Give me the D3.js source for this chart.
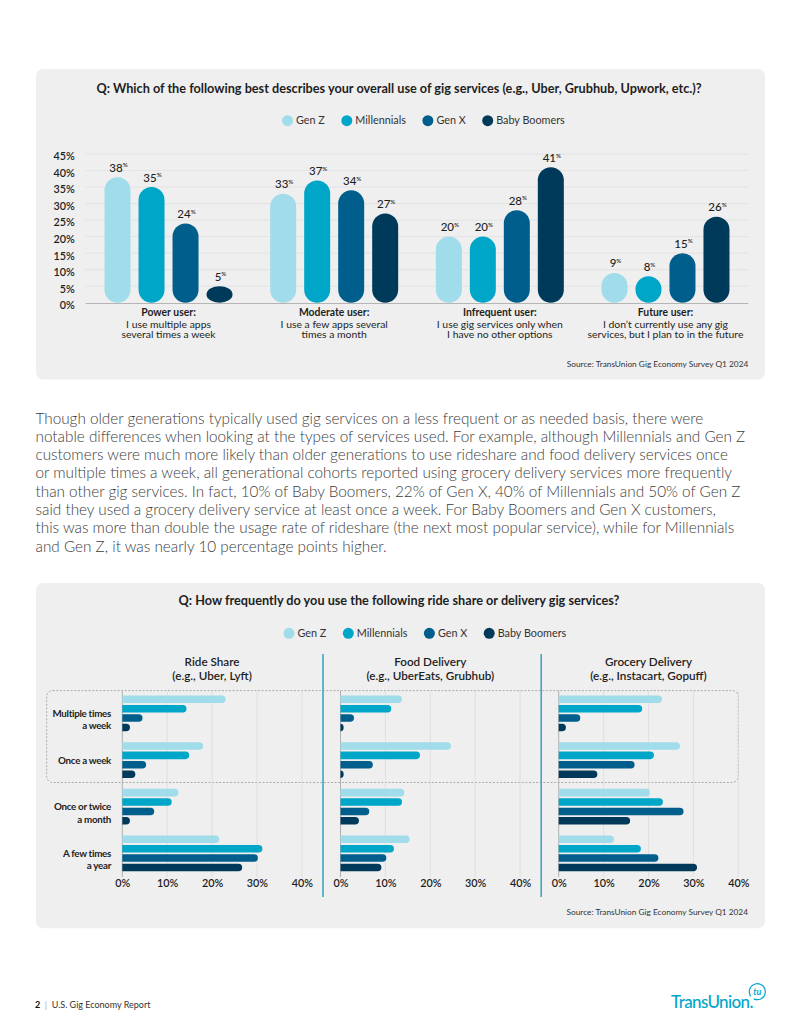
<!DOCTYPE html>
<html>
<head>
<meta charset="utf-8">
<script src="https://cdn.jsdelivr.net/npm/d3@7"></script>
<style>
  body { margin: 0; background: #fff; }
  text { font-family: Lato, "Noto Sans", sans-serif; }
</style>
</head>
<body>
<div id="page"></div>
<script>
// datos
var generations = ["Gen Z", "Millennials", "Gen X", "Baby Boomers"];
var genColors = ["#a0dcea", "#00a6c8", "#005e8c", "#003a5a"];

var usageTypes = ["Power user:", "Moderate user:", "Infrequent user:", "Future user:"];
var usageDesc = [
  ["I use multiple apps", "several times a week"],
  ["I use a few apps several", "times a month"],
  ["I use gig services only when", "I have no other options"],
  ["I don\u2019t currently use any gig", "services, but I plan to in the future"]
];
var genZUsage = [38, 33, 20, 9];
var millennialsUsage = [35, 37, 20, 8];
var genXUsage = [24, 34, 28, 15];
var boomersUsage = [5, 27, 41, 26];
var usageTicks = [0, 5, 10, 15, 20, 25, 30, 35, 40, 45];

var services = ["Ride Share", "Food Delivery", "Grocery Delivery"];
var serviceExamples = ["(e.g., Uber, Lyft)", "(e.g., UberEats, Grubhub)", "(e.g., Instacart, Gopuff)"];
var frequencies = ["Multiple times a week", "Once a week", "Once or twice a month", "A few times a year"];
var frequencyLines = [["Multiple times", "a week"], ["Once a week"], ["Once or twice", "a month"], ["A few times", "a year"]];
var freqTicks = [0, 10, 20, 30, 40];

var rideGenZ = [23, 18, 12.5, 21.6];
var rideMillennials = [14.3, 14.9, 11, 31.2];
var rideGenX = [4.5, 5.3, 7.1, 30.2];
var rideBoomers = [1.7, 2.9, 1.7, 26.7];

var foodGenZ = [13.7, 24.6, 14.2, 15.4];
var foodMillennials = [11.3, 17.7, 13.7, 11.9];
var foodGenX = [3, 7.2, 6.4, 10.2];
var foodBoomers = [0.7, 0.7, 4.1, 9.1];

var groceryGenZ = [23, 27, 20.3, 12.3];
var groceryMillennials = [18.6, 21.2, 23.2, 18.3];
var groceryGenX = [4.8, 16.9, 27.8, 22.2];
var groceryBoomers = [1.6, 8.6, 15.9, 30.8];

var sourceText = "Source: TransUnion Gig Economy Survey Q1 2024";
var paragraphLines = [
  "Though older generations typically used gig services on a less frequent or as needed basis, there were",
  "notable differences when looking at the types of services used. For example, although Millennials and Gen Z",
  "customers were much more likely than older generations to use rideshare and food delivery services once",
  "or multiple times a week, all generational cohorts reported using grocery delivery services more frequently",
  "than other gig services. In fact, 10% of Baby Boomers, 22% of Gen X, 40% of Millennials and 50% of Gen Z",
  "said they used a grocery delivery service at least once a week. For Baby Boomers and Gen X customers,",
  "this was more than double the usage rate of rideshare (the next most popular service), while for Millennials",
  "and Gen Z, it was nearly 10 percentage points higher."
];

var color = d3.scaleOrdinal().domain(generations).range(genColors);
var textDark = "#1e1e1e";

var svg = d3.select("#page").append("svg")
  .attr("width", 800)
  .attr("height", 1035);

// leyenda
function drawLegend(y, startX) {
  var g = svg.append("g").attr("transform", "translate(" + startX + "," + y + ")");
  var x = 0;
  generations.forEach(function (gen) {
    g.append("circle").attr("cx", x + 5.5).attr("cy", 0).attr("r", 5.5).attr("fill", color(gen));
    var t = g.append("text")
      .attr("x", x + 14)
      .attr("y", 3.7)
      .attr("font-size", 10.8)
      .attr("fill", "#333")
      .text(gen);
    x += 14 + t.node().getComputedTextLength() + 16.5;
  });
}

// ---------- grafico superior ----------
svg.append("rect")
  .attr("x", 36).attr("y", 69).attr("width", 729).attr("height", 310.5)
  .attr("rx", 7).attr("fill", "#efefef");

svg.append("text")
  .attr("x", 399).attr("y", 93.2)
  .attr("text-anchor", "middle")
  .attr("font-size", 12.7).attr("font-weight", 700)
  .attr("fill", textDark)
  .text("Q: Which of the following best describes your overall use of gig services (e.g., Uber, Grubhub, Upwork, etc.)?");

drawLegend(120.7, 282);

var usageSeries = [genZUsage, millennialsUsage, genXUsage, boomersUsage];
var usageData = usageTypes.map(function (t, i) {
  return {
    type: t,
    desc: usageDesc[i],
    values: generations.map(function (gen, j) { return { gen: gen, value: usageSeries[j][i] }; })
  };
});

var y = d3.scaleLinear().domain([0, 45]).range([302.7, 154]);
var x0 = d3.scaleBand().domain(usageTypes).range([85.7, 748.3]);
var x1 = d3.scaleBand().domain(generations).range([0, 128]).paddingInner(8 / 34);
var groupOffset = (x0.bandwidth() - 128) / 2;

// lineas de cuadricula
svg.append("g").selectAll("line")
  .data(usageTicks.filter(function (d) { return d > 0; }))
  .enter().append("line")
  .attr("x1", 85.7).attr("x2", 748.3)
  .attr("y1", function (d) { return y(d); })
  .attr("y2", function (d) { return y(d); })
  .attr("stroke", "#e0e0e0").attr("stroke-width", 0.8);

svg.append("line")
  .attr("x1", 85.7).attr("x2", 748.3)
  .attr("y1", y(0) + 0.8).attr("y2", y(0) + 0.8)
  .attr("stroke", "#b5b5b5").attr("stroke-width", 1);

var yAxis = svg.append("g")
  .attr("transform", "translate(85.7,2.4)")
  .call(d3.axisLeft(y).tickValues(usageTicks).tickSize(0).tickPadding(11)
    .tickFormat(function (d) { return d + "%"; }));
yAxis.select(".domain").remove();
yAxis.selectAll("text")
  .attr("font-family", "Lato, sans-serif")
  .attr("font-size", 10.8).attr("font-weight", 600)
  .attr("fill", textDark);

var groups = svg.append("g").selectAll("g")
  .data(usageData)
  .enter().append("g")
  .attr("transform", function (d) { return "translate(" + (x0(d.type) + groupOffset) + ",0)"; });

groups.selectAll("rect")
  .data(function (d) { return d.values; })
  .enter().append("rect")
  .attr("x", function (d) { return x1(d.gen); })
  .attr("y", function (d) { return y(d.value); })
  .attr("width", x1.bandwidth())
  .attr("height", function (d) { return y(0) - y(d.value); })
  .attr("rx", x1.bandwidth() / 2)
  .attr("fill", function (d) { return color(d.gen); });

var valueLabels = groups.selectAll(".val")
  .data(function (d) { return d.values; })
  .enter().append("text")
  .attr("class", "val")
  .attr("x", function (d) { return x1(d.gen) + x1.bandwidth() / 2 + 1; })
  .attr("y", function (d) { return y(d.value) - 5.5; })
  .attr("text-anchor", "middle")
  .attr("font-size", 11.5).attr("font-weight", 500)
  .attr("fill", textDark);
valueLabels.append("tspan").text(function (d) { return d.value; });
valueLabels.append("tspan").attr("font-size", 6.2).attr("dy", -4.2).text("%");

var catLabels = groups.append("text")
  .attr("text-anchor", "middle")
  .attr("font-size", 10.4)
  .attr("fill", textDark);
catLabels.append("tspan")
  .attr("x", x0.bandwidth() / 2 - groupOffset)
  .attr("y", 315.8)
  .attr("font-weight", 700)
  .text(function (d) { return d.type; });
catLabels.selectAll(".desc")
  .data(function (d) { return d.desc; })
  .enter().append("tspan")
  .attr("class", "desc")
  .attr("x", x0.bandwidth() / 2 - groupOffset)
  .attr("y", function (d, i) { return 327.6 + i * 10.6; })
  .text(function (d) { return d; });

svg.append("text")
  .attr("x", 748.3).attr("y", 367)
  .attr("text-anchor", "end")
  .attr("font-size", 8.3).attr("fill", "#333")
  .text(sourceText);

// ---------- parrafo ----------
svg.append("g").selectAll("text")
  .data(paragraphLines)
  .enter().append("text")
  .attr("x", 35.5)
  .attr("y", function (d, i) { return 423.5 + i * 18.3; })
  .attr("font-size", 15.3).attr("font-weight", 300)
  .attr("fill", "#3c3c3c")
  .text(function (d) { return d; });

// ---------- grafico inferior ----------
svg.append("rect")
  .attr("x", 36).attr("y", 583).attr("width", 729).attr("height", 345.3)
  .attr("rx", 7).attr("fill", "#efefef");

svg.append("text")
  .attr("x", 399).attr("y", 605.2)
  .attr("text-anchor", "middle")
  .attr("font-size", 12.7).attr("font-weight", 700)
  .attr("fill", textDark)
  .text("Q: How frequently do you use the following ride share or delivery gig services?");

drawLegend(633.3, 283.5);

var serviceSeries = [
  [rideGenZ, rideMillennials, rideGenX, rideBoomers],
  [foodGenZ, foodMillennials, foodGenX, foodBoomers],
  [groceryGenZ, groceryMillennials, groceryGenX, groceryBoomers]
];

var panel = d3.scaleBand().domain(services).range([122.3, 738.3]).paddingInner(0.177);
var y0 = d3.scaleBand().domain(frequencies).range([694.6, 872.2]).paddingInner(0.194);
var yb = d3.scaleBand().domain(generations).range([0, y0.bandwidth()]).paddingInner(0.2).paddingOuter(0.1);
var gridTop = y0(frequencies[0]) - 4;
var gridBottom = 877;

// caja punteada de uso semanal
svg.append("rect")
  .attr("x", 46.7)
  .attr("y", gridTop)
  .attr("width", panel(services[2]) + panel.bandwidth() - 46.7)
  .attr("height", y0(frequencies[1]) + y0.bandwidth() + 3.6 - gridTop)
  .attr("rx", 6)
  .attr("fill", "none")
  .attr("stroke", "#9a9a9a").attr("stroke-width", 0.8)
  .attr("stroke-dasharray", "2,1.6");

function barPath(xa, xb, yt, h) {
  var w = Math.max(xb - xa, 0.5);
  var r = Math.min(h / 2, w);
  return "M" + xa + "," + yt + "H" + (xa + w - r) +
    "A" + r + "," + (h / 2) + " 0 0 1 " + (xa + w - r) + "," + (yt + h) +
    "H" + xa + "Z";
}

services.forEach(function (service, si) {
  var px = panel(service);
  var xs = d3.scaleLinear().domain([0, 40]).range([px, px + panel.bandwidth()]);
  var g = svg.append("g");

  g.selectAll(".grid")
    .data(freqTicks.filter(function (d) { return d > 0; }))
    .enter().append("line")
    .attr("x1", function (d) { return xs(d); })
    .attr("x2", function (d) { return xs(d); })
    .attr("y1", gridTop).attr("y2", gridBottom)
    .attr("stroke", "#dcdcdc").attr("stroke-width", 0.8);

  g.append("line")
    .attr("x1", xs(0)).attr("x2", xs(0))
    .attr("y1", gridTop).attr("y2", gridBottom)
    .attr("stroke", "#b0b0b0").attr("stroke-width", 1);

  var rows = frequencies.map(function (f, fi) {
    return {
      freq: f,
      values: generations.map(function (gen, gi) { return { gen: gen, value: serviceSeries[si][gi][fi] }; })
    };
  });

  g.selectAll(".row")
    .data(rows)
    .enter().append("g")
    .attr("transform", function (d) { return "translate(0," + y0(d.freq) + ")"; })
    .selectAll("path")
    .data(function (d) { return d.values; })
    .enter().append("path")
    .attr("d", function (d) { return barPath(xs(0), xs(d.value), yb(d.gen), yb.bandwidth()); })
    .attr("fill", function (d) { return color(d.gen); });

  var ax = g.append("g")
    .attr("transform", "translate(0," + gridBottom + ")")
    .call(d3.axisBottom(xs).tickValues(freqTicks).tickSize(0).tickPadding(2.5)
      .tickFormat(function (d) { return d + "%"; }));
  ax.select(".domain").remove();
  ax.selectAll("text")
    .attr("font-family", "Lato, sans-serif")
    .attr("font-size", 10.8).attr("font-weight", 600)
    .attr("fill", textDark);

  var title = g.append("text")
    .attr("text-anchor", "middle")
    .attr("font-size", 11.7).attr("font-weight", 600)
    .attr("fill", textDark);
  title.append("tspan").attr("x", px + panel.bandwidth() / 2).attr("y", 665.6).text(service);
  title.append("tspan").attr("x", px + panel.bandwidth() / 2).attr("y", 679.8).text(serviceExamples[si]);

  if (si > 0) {
    svg.append("line")
      .attr("x1", px - 17.5).attr("x2", px - 17.5)
      .attr("y1", 654).attr("y2", 897)
      .attr("stroke", "#3ea6bf").attr("stroke-width", 1.6);
  }
});

// etiquetas de frecuencia
var rowLabels = svg.append("g").selectAll("text")
  .data(frequencies)
  .enter().append("text")
  .attr("text-anchor", "end")
  .attr("font-size", 9.8).attr("font-weight", 700)
  .attr("letter-spacing", -0.3)
  .attr("fill", textDark);
rowLabels.selectAll("tspan")
  .data(function (d, i) { return frequencyLines[i].map(function (l) { return { line: l, freq: d }; }); })
  .enter().append("tspan")
  .attr("x", 111)
  .attr("y", function (d, i) { return y0(d.freq) + y0.bandwidth() / 2 + 3.5 + i * 12.5; })
  .text(function (d) { return d.line; });

svg.append("text")
  .attr("x", 748).attr("y", 915)
  .attr("text-anchor", "end")
  .attr("font-size", 8.3).attr("fill", "#333")
  .text(sourceText);

// ---------- pie de pagina ----------
var foot = svg.append("text")
  .attr("x", 35).attr("y", 1008.2)
  .attr("font-size", 9).attr("fill", "#333")
  .attr("xml:space", "preserve");
foot.append("tspan").attr("font-weight", 700).attr("fill", "#111").text("2");
foot.append("tspan").attr("fill", "#aaa").text("  |  ");
foot.append("tspan").text("U.S. Gig Economy Report");

svg.append("text")
  .attr("x", 671).attr("y", 1007.5)
  .attr("font-size", 17).attr("font-weight", 500)
  .attr("letter-spacing", -0.6)
  .attr("fill", "#00a6ca")
  .text("TransUnion.");

var arc = d3.arc().innerRadius(7.4).outerRadius(8.6).startAngle(-2.2).endAngle(3.6);
svg.append("path")
  .attr("transform", "translate(757.3,991.7)")
  .attr("d", arc())
  .attr("fill", "#00a6ca");
svg.append("text")
  .attr("x", 757.3).attr("y", 994.5)
  .attr("text-anchor", "middle")
  .attr("font-size", 9).attr("font-style", "italic").attr("font-weight", 700)
  .attr("fill", "#00a6ca")
  .text("tu");
</script>
</body>
</html>
